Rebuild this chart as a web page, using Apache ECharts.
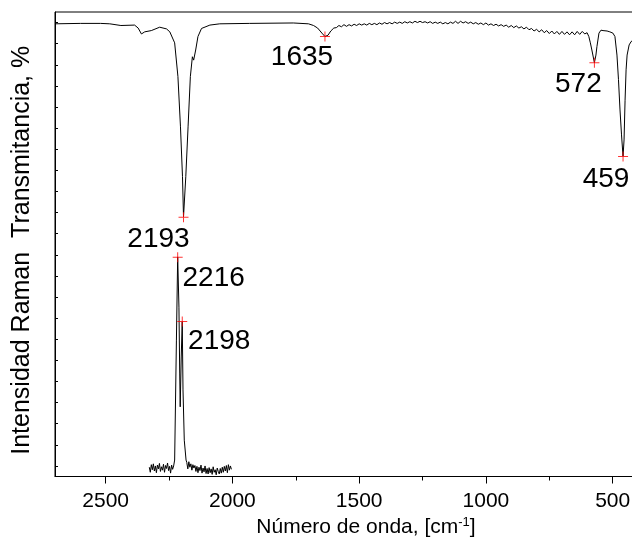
<!DOCTYPE html>
<html><head><meta charset="utf-8">
<script src="https://cdn.jsdelivr.net/npm/echarts@6/dist/echarts.min.js"></script>
<style>html,body{margin:0;padding:0;background:#fff}#c{width:632px;height:544px}</style>
</head><body><div id="c"></div>
<script>
// IR transmittance spectrum (upper trace): [wavenumber, value]
const irPoints = [
[2700,107.2],[2600,107.3],[2520,107.3],[2484,107.2],[2440,106.8],[2386,106.9],[2372,106.2],[2359,104.8],[2346,105.3],[2320,105.6],[2287,106.4],[2260,106.0],[2247,105.3],[2228,102.7],[2215,94.7],[2205,82.8],[2197,71.0],[2193,61.5],[2184,71.0],[2175,82.8],[2166,94.7],[2158,99.4],[2153,98.6],[2145,101.0],[2136,104.2],[2122,106.1],[2089,106.9],[2050,107.2],[1932,107.3],[1760,107.4],[1700,107.2],[1680,106.8],[1664,106.2],[1647,105.0],[1635,104.2],[1623,104.5],[1612,105.5],[1600,106.2],
[1590,106.3],[1580,106.8],[1570,106.5],[1560,107.0],[1550,106.6],[1540,107.0],[1530,106.7],[1520,107.1],[1510,106.8],[1500,107.2],[1490,106.9],[1480,107.2],[1470,106.9],[1460,107.3],[1450,107.0],[1440,107.3],[1430,107.0],[1420,107.4],[1410,107.1],[1400,107.5],[1390,107.2],[1380,107.5],[1370,107.2],[1360,107.6],[1350,107.3],[1340,107.6],[1330,107.3],[1320,107.7],[1310,107.4],[1300,107.7],[1290,107.4],[1280,107.8],[1270,107.5],[1260,107.8],[1250,107.5],[1240,107.7],[1230,107.4],[1220,107.7],[1210,107.3],[1200,107.6],[1190,107.3],[1180,107.6],[1170,107.2],[1160,107.5],[1150,107.2],[1140,107.6],[1130,107.3],[1120,107.8],[1110,107.3],[1100,107.8],[1090,107.4],[1080,107.7],[1070,107.3],[1060,107.6],[1050,107.2],[1040,107.5],[1030,107.1],[1020,107.4],[1010,107.0],[1000,107.4],[990,106.9],[980,107.2],[970,106.8],[960,107.1],[950,106.7],[940,107.0],[930,106.6],[920,106.9],[910,106.4],[900,106.8],[890,106.3],[880,106.7],[870,106.2],[860,106.5],[850,106.0],[840,106.4],[830,105.8],[820,106.1],[810,105.5],[800,105.9],[790,105.3],[780,105.8],[770,105.1],[760,105.6],[750,104.9],[740,105.5],[730,104.8],[720,105.4],[710,104.7],[700,105.4],[690,104.7],[680,105.3],[670,104.6],[660,105.3],[650,104.6],[640,105.4],[630,104.7],[620,105.4],[610,104.8],
[601,105.1],[594,104.2],[588,102.7],[582,101.0],[572,98.0],[566,99.8],[562,101.8],[554,105.0],[546,105.7],[538,105.6],[522,105.5],[511,105.3],[499,105.0],[491,104.2],[483,99.8],[477,94.0],[471,86.8],[465,80.9],[459,75.8],[455,79.7],[451,89.1],[447,96.3],[443,99.8],[435,102.2],[428,102.9],[420,103.4],[408,103.8],[400,104.1]
];

// Raman spectrum (lower trace): [wavenumber, value]
const ramanPoints = [
[2328,2.2],[2324,1.0],[2320,2.8],[2316,1.6],[2312,3.0],[2308,1.3],[2304,2.5],[2300,0.9],[2296,2.7],[2292,1.8],[2288,3.1],[2284,1.2],[2280,2.3],[2276,1.5],[2272,2.9],[2268,1.0],[2264,2.6],[2260,1.9],[2256,3.2],[2252,1.4],[2248,2.4],[2244,0.8],[2240,2.7],[2236,1.7],[2232,2.5],
[2228,3.9],[2221,32.3],[2216,52.0],[2211,40.1],[2208,24.5],[2206,16.5],[2202,28.3],[2198,36.7],[2195,20.5],[2190,8.6],[2183,3.9],
[2180,3.3],[2176,1.8],[2172,3.5],[2168,2.2],[2164,3.0],[2160,1.5],[2156,2.8],[2152,2.0],
[2148,2.6],[2144,1.2],[2140,2.4],[2136,0.9],[2132,2.2],[2128,1.4],[2124,2.7],[2120,0.8],[2116,2.0],[2112,1.1],[2108,2.5],[2104,0.7],[2100,1.9],
[2096,0.6],[2092,2.1],[2088,0.9],[2084,1.8],[2080,0.5],[2076,2.3],[2072,1.0],[2068,1.6],[2064,0.4],[2060,2.0],[2056,1.2],[2052,0.6],[2048,1.9],[2044,0.8],[2040,2.2],
[2036,1.0],[2032,2.4],[2028,1.3],[2024,2.6],[2020,0.9],[2016,2.8],[2012,1.5],[2008,2.5],[2004,1.7]
];

const peakWavenumbers = [2193, 1635, 572, 459, 2216, 2198];
const peakValues = [61.4, 104.2, 98.0, 75.8, 51.9, 36.7];
const peakLabels = ['2193', '1635', '572', '459', '2216', '2198'];

const xMajorTicks = [2500, 2000, 1500, 1000, 500];
const xMinorTicks = [2250, 1750, 1250, 750];
const yTicks = [2.5,7.5,12.5,17.5,22.5,27.5,32.5,37.5,42.5,47.5,52.5,57.5,62.5,67.5,72.5,77.5,82.5,87.5,92.5,97.5,102.5,107.5];

const xTitleMain = 'Número de onda, [cm';
const xTitleSup = '-1';
const xTitleEnd = ']';
const yTitle = 'Intensidad Raman  Transmitancia, %';

const FONT = "'Liberation Sans', Arial, sans-serif";
const labelOffset = {
  '2193': [-25, 22], '1635': [-23, 21], '572': [-16, 22],
  '459': [-17, 23], '2216': [36, 21], '2198': [37, 20]
};

const chart = echarts.init(document.getElementById('c'), null, {renderer: 'canvas'});
const xRange = {min: 400, max: 2700, inverse: true};
chart.setOption({
  animation: false,
  backgroundColor: '#fff',
  grid: {left: 55, top: 12, width: 583, height: 464.5, containLabel: false, outerBoundsMode: 'none',
         show: true, borderColor: '#000', borderWidth: 1, backgroundColor: 'transparent'},
  xAxis: [{
    type: 'value', ...xRange, position: 'bottom',
    axisLine: {show: true, onZero: false, lineStyle: {color: '#000', width: 1}},
    axisTick: {show: true, inside: false, length: 7, customValues: xMajorTicks, lineStyle: {color: '#000', width: 1}},
    axisLabel: {show: true, customValues: xMajorTicks, formatter: v => String(v), margin: 14, color: '#000', fontSize: 21, fontFamily: FONT},
    splitLine: {show: false},
    name: '{m|' + xTitleMain + '}{s|' + xTitleSup + '}{m|' + xTitleEnd + '}',
    nameLocation: 'middle', nameGap: 36,
    nameTextStyle: {
      padding: [0, 0, 0, 39],
      rich: {
        m: {fontSize: 21, fontFamily: FONT, color: '#000'},
        s: {fontSize: 13, fontFamily: FONT, color: '#000', verticalAlign: 'top'}
      }
    }
  }, {
    type: 'value', ...xRange, position: 'bottom',
    axisLine: {show: false},
    axisTick: {show: true, inside: false, length: 4, customValues: xMinorTicks, lineStyle: {color: '#000', width: 1}},
    axisLabel: {show: false},
    splitLine: {show: false}
  }],
  yAxis: {
    type: 'value', min: 0, max: 110,
    axisLine: {show: true, onZero: false, lineStyle: {color: '#000', width: 1}},
    axisTick: {show: true, inside: true, length: 3, customValues: yTicks, lineStyle: {color: '#000', width: 1}},
    axisLabel: {show: false},
    splitLine: {show: false},
    name: yTitle, nameLocation: 'middle', nameGap: 20,
    nameTextStyle: {fontSize: 25, fontFamily: FONT, color: '#000', padding: [0, 12, 0, 0]}
  },
  series: [{
    type: 'line', data: irPoints, xAxisIndex: 0, showSymbol: false, symbol: 'none',
    lineStyle: {color: '#000', width: 1}, z: 2
  }, {
    type: 'line', data: ramanPoints, xAxisIndex: 0, showSymbol: false, symbol: 'none',
    lineStyle: {color: '#000', width: 1}, z: 2
  }, {
    type: 'scatter', xAxisIndex: 0, z: 3,
    symbol: 'path://M0,4.5L10,4.5L10,5.5L0,5.5Z M4.5,0L5.5,0L5.5,10L4.5,10Z',
    symbolSize: 10,
    itemStyle: {color: '#ff0000'},
    data: peakWavenumbers.map((w, i) => ({
      value: [w, peakValues[i]],
      name: peakLabels[i],
      label: {
        show: true, position: 'inside', offset: labelOffset[peakLabels[i]],
        formatter: peakLabels[i], fontSize: 28, fontFamily: FONT, color: '#000',
        textBorderWidth: 0, textBorderColor: 'transparent', opacity: 1,
        align: 'center', verticalAlign: 'middle'
      }
    }))
  }]
});
</script>
</body></html>
